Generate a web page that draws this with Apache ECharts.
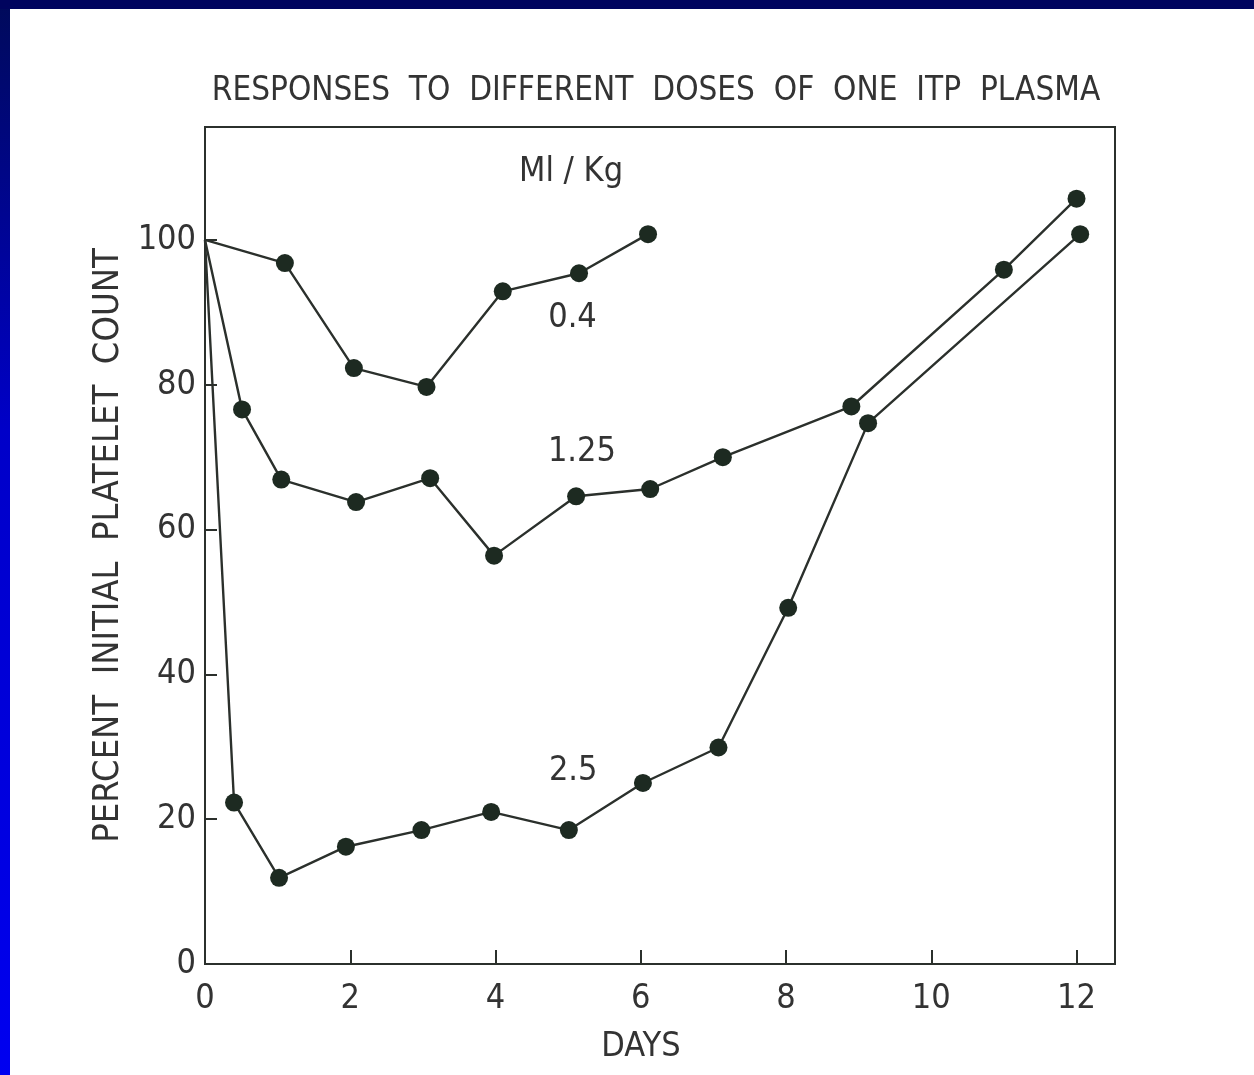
<!DOCTYPE html>
<html>
<head>
<meta charset="utf-8">
<script src="https://cdn.jsdelivr.net/npm/echarts@6/dist/echarts.min.js"></script>
<style>
html,body{margin:0;padding:0;background:#fff;overflow:hidden;width:100%;height:100%;}
#c{position:absolute;left:0;top:0;width:1254px;height:1075px;}
</style>
</head>
<body>
<div id="c"></div>
<script>
// ---- data ----
var titleText = 'RESPONSES  TO  DIFFERENT  DOSES  OF  ONE  ITP  PLASMA';
var xAxisName = 'DAYS';
var yAxisName = 'PERCENT  INITIAL  PLATELET  COUNT';
var xTicks = [0, 2, 4, 6, 8, 10, 12];
var yTicks = [0, 20, 40, 60, 80, 100];

var dose04Days   = [0, 1.1, 2.05, 3.05, 4.1, 5.15, 6.1];
var dose04Values = [100, 96.8, 82.3, 79.7, 92.9, 95.4, 100.8];

var dose125Days   = [0, 0.51, 1.05, 2.08, 3.1, 3.98, 5.11, 6.13, 7.13, 8.9, 11.0, 12.0];
var dose125Values = [100, 76.6, 66.9, 63.8, 67.1, 56.4, 64.6, 65.6, 70.0, 77.0, 95.9, 105.7];

var dose25Days   = [0, 0.40, 1.02, 1.94, 2.98, 3.94, 5.01, 6.03, 7.07, 8.03, 9.13, 12.05];
var dose25Values = [100, 22.3, 11.9, 16.2, 18.5, 21.0, 18.5, 25.0, 29.9, 49.2, 74.7, 100.8];

var annotationTexts = ['Ml / Kg', '0.4', '1.25', '2.5'];
var annotationDays  = [5.04, 5.06, 5.19, 5.07];
var annotationVals  = [109.3, 89.2, 70.7, 26.7];

// ---- chart ----
var FONT = "'DejaVu Sans Condensed', 'Liberation Sans Narrow', sans-serif";
var INK = '#2b302c';
var TXT = '#333333';

function pairs(xs, ys){ return xs.map(function(x,i){ return [x, ys[i]]; }); }

function lineSeries(name, xs, ys){
  return {
    name: name, type: 'line', data: pairs(xs, ys),
    symbol: 'circle',
    symbolSize: function(v){ return v[0] === 0 ? 0 : 18; },
    showSymbol: true,
    lineStyle: {color: INK, width: 2.4},
    itemStyle: {color: '#1d2a21'},
    emphasis: {disabled: true},
    z: 3
  };
}

var el = document.getElementById('c');
var chart = echarts.init(el, null, {width: 1254, height: 1075});
var option = {
  animation: false,
  backgroundColor: '#ffffff',
  title: {
    text: titleText, left: 651, top: 70, textAlign: 'center',
    textStyle: {fontFamily: FONT, fontSize: 33, fontWeight: 'normal', color: TXT}
  },
  grid: {
    left: 205, top: 127, right: 139, bottom: 111,
    show: true, borderColor: INK, borderWidth: 2, backgroundColor: 'transparent'
  },
  xAxis: {
    type: 'value', min: 0, max: 12.53, interval: 2,
    name: xAxisName, nameLocation: 'middle', nameGap: 66,
    nameTextStyle: {fontFamily: FONT, fontSize: 34, color: TXT, padding: [0, 38, 0, 0]},
    axisLine: {show: true, lineStyle: {color: INK, width: 2}},
    axisTick: {show: true, inside: true, length: 14, lineStyle: {color: INK, width: 2}},
    axisLabel: {
      fontFamily: FONT, fontSize: 34, color: TXT, margin: 18,
      formatter: function(v){ return xTicks.indexOf(v) >= 0 ? String(v) : ''; }
    },
    splitLine: {show: false}
  },
  yAxis: {
    type: 'value', min: 0, max: 115.6, interval: 20,
    name: yAxisName, nameLocation: 'middle', nameGap: 78,
    nameTextStyle: {fontFamily: FONT, fontSize: 36, color: TXT},
    axisLine: {show: true, lineStyle: {color: INK, width: 2}},
    axisTick: {show: true, inside: true, length: 12, lineStyle: {color: INK, width: 2}},
    axisLabel: {
      fontFamily: FONT, fontSize: 34, color: TXT, margin: 9,
      formatter: function(v){ return yTicks.indexOf(v) >= 0 ? String(v) : ''; }
    },
    splitLine: {show: false}
  },
  series: [
    lineSeries('0.4', dose04Days, dose04Values),
    lineSeries('1.25', dose125Days, dose125Values),
    lineSeries('2.5', dose25Days, dose25Values)
  ]
};
chart.setOption(option);

// annotations placed through the axis scales
var g = [
  {type:'rect', shape:{x:0, y:0, width:10, height:1075},
   style:{fill: new echarts.graphic.LinearGradient(0,0,0,1,[{offset:0,color:'#000a5a'},{offset:0.4,color:'#0000c8'},{offset:1,color:'#0000f0'}])}, z:10},
  {type:'rect', shape:{x:0, y:0, width:1254, height:9}, style:{fill:'#00045e'}, z:10}
];
annotationTexts.forEach(function(t, i){
  var p = chart.convertToPixel({gridIndex:0}, [annotationDays[i], annotationVals[i]]);
  g.push({type:'text', x:p[0], y:p[1], z:5,
    style:{text:t, fontFamily:FONT, fontSize:34, fill:TXT, align:'center', verticalAlign:'middle'}});
});
chart.setOption({graphic: g});
</script>
</body>
</html>
